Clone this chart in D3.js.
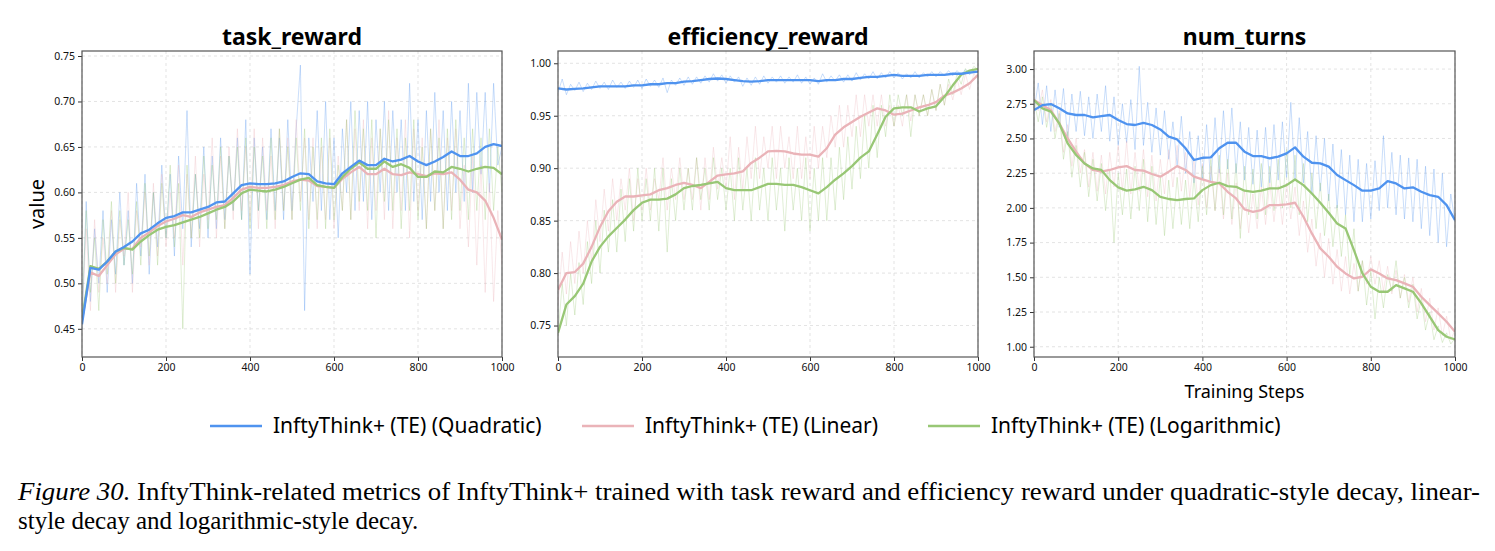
<!DOCTYPE html>
<html>
<head>
<meta charset="utf-8">
<script src="https://cdn.jsdelivr.net/npm/d3@7"></script>
<style>
  body { margin: 0; background: #fff; }
  svg { display: block; }
</style>
</head>
<body>
<svg id="chart" width="1495" height="551"></svg>
<script>
// ---- data ----
var seriesNames = ["InftyThink+ (TE) (Quadratic)", "InftyThink+ (TE) (Linear)", "InftyThink+ (TE) (Logarithmic)"];
var panelTitles = ["task_reward", "efficiency_reward", "num_turns"];
var xTicks = [0, 200, 400, 600, 800, 1000];
var yTicksTask = [0.45, 0.50, 0.55, 0.60, 0.65, 0.70, 0.75];
var yTicksEff = [0.75, 0.80, 0.85, 0.90, 0.95, 1.00];
var yTicksTurns = [1.00, 1.25, 1.50, 1.75, 2.00, 2.25, 2.50, 2.75, 3.00];

// smoothed curves, one value every 20 steps (0..1000)
var taskQuad = [0.455,0.517,0.515,0.524,0.535,0.540,0.546,0.555,0.559,0.566,0.572,0.574,0.578,0.578,0.581,0.584,0.589,0.590,0.599,0.608,0.610,0.609,0.609,0.610,0.612,0.617,0.621,0.620,0.612,0.610,0.609,0.621,0.628,0.635,0.630,0.630,0.637,0.634,0.636,0.640,0.634,0.630,0.634,0.639,0.645,0.640,0.640,0.643,0.650,0.653,0.651];
var taskLin = [0.460,0.512,0.508,0.520,0.532,0.538,0.538,0.550,0.556,0.563,0.568,0.571,0.575,0.573,0.578,0.581,0.584,0.586,0.594,0.603,0.606,0.605,0.605,0.606,0.608,0.612,0.614,0.613,0.607,0.606,0.605,0.615,0.622,0.628,0.620,0.620,0.626,0.620,0.619,0.622,0.620,0.618,0.621,0.620,0.622,0.614,0.603,0.600,0.591,0.572,0.548];
var taskLog = [0.460,0.519,0.516,0.524,0.535,0.539,0.537,0.546,0.553,0.559,0.562,0.564,0.567,0.570,0.573,0.577,0.581,0.584,0.590,0.599,0.603,0.602,0.601,0.603,0.606,0.610,0.614,0.616,0.608,0.606,0.605,0.617,0.626,0.633,0.626,0.626,0.634,0.628,0.631,0.627,0.617,0.617,0.623,0.622,0.628,0.626,0.623,0.626,0.628,0.627,0.620];

var effQuad = [0.976,0.975,0.9755,0.976,0.977,0.978,0.978,0.978,0.978,0.979,0.979,0.980,0.980,0.981,0.981,0.9825,0.983,0.984,0.985,0.9855,0.985,0.984,0.983,0.9825,0.983,0.984,0.984,0.984,0.984,0.984,0.984,0.983,0.984,0.984,0.985,0.985,0.986,0.987,0.987,0.988,0.989,0.988,0.988,0.988,0.989,0.989,0.989,0.990,0.990,0.991,0.992];
var effLin = [0.784,0.800,0.801,0.809,0.825,0.844,0.859,0.868,0.873,0.873,0.874,0.875,0.879,0.881,0.884,0.886,0.884,0.881,0.887,0.893,0.894,0.895,0.897,0.905,0.910,0.916,0.9165,0.916,0.914,0.913,0.913,0.911,0.919,0.932,0.939,0.944,0.949,0.953,0.957,0.955,0.951,0.952,0.955,0.958,0.960,0.963,0.969,0.972,0.976,0.981,0.989];
var effLog = [0.743,0.770,0.778,0.790,0.811,0.825,0.835,0.843,0.851,0.860,0.867,0.870,0.870,0.871,0.875,0.881,0.883,0.884,0.8855,0.887,0.881,0.879,0.879,0.879,0.882,0.885,0.885,0.884,0.884,0.882,0.879,0.876,0.882,0.889,0.895,0.902,0.910,0.916,0.932,0.949,0.957,0.958,0.958,0.954,0.957,0.959,0.968,0.979,0.989,0.993,0.9946];

var turnsQuad = [2.705,2.740,2.748,2.717,2.680,2.669,2.669,2.652,2.661,2.669,2.633,2.604,2.597,2.613,2.597,2.565,2.513,2.493,2.429,2.345,2.361,2.364,2.429,2.469,2.469,2.405,2.373,2.373,2.357,2.369,2.393,2.436,2.369,2.325,2.321,2.297,2.237,2.200,2.164,2.124,2.124,2.140,2.193,2.176,2.140,2.148,2.116,2.092,2.080,2.020,1.912];
var turnsLin = [2.777,2.740,2.705,2.609,2.500,2.405,2.320,2.273,2.261,2.273,2.292,2.301,2.273,2.268,2.244,2.225,2.261,2.301,2.273,2.225,2.205,2.188,2.176,2.116,2.068,1.989,1.972,1.984,2.020,2.020,2.025,2.037,1.936,1.816,1.708,1.648,1.576,1.528,1.492,1.504,1.557,1.528,1.492,1.480,1.456,1.432,1.360,1.300,1.240,1.180,1.108];
var turnsLog = [2.777,2.717,2.693,2.609,2.465,2.381,2.320,2.284,2.273,2.200,2.148,2.124,2.133,2.152,2.128,2.080,2.064,2.056,2.064,2.068,2.128,2.164,2.181,2.157,2.152,2.124,2.116,2.124,2.140,2.140,2.164,2.205,2.164,2.104,2.037,1.965,1.888,1.852,1.696,1.528,1.432,1.396,1.396,1.444,1.420,1.396,1.312,1.216,1.120,1.072,1.053];

// raw (unsmoothed) logs, one value every 10 steps (0..1000)
var taskQuadRaw = [0.45,0.59,0.48,0.56,0.50,0.58,0.49,0.57,0.51,0.60,0.52,0.58,0.50,0.61,0.53,0.62,0.51,0.60,0.54,0.63,0.55,0.62,0.53,0.64,0.56,0.69,0.54,0.62,0.56,0.65,0.55,0.64,0.56,0.66,0.57,0.64,0.58,0.66,0.57,0.68,0.51,0.66,0.58,0.65,0.57,0.67,0.58,0.66,0.57,0.68,0.58,0.67,0.74,0.47,0.66,0.59,0.69,0.58,0.70,0.57,0.66,0.55,0.67,0.60,0.70,0.58,0.69,0.59,0.70,0.57,0.68,0.60,0.70,0.58,0.69,0.60,0.68,0.58,0.72,0.59,0.68,0.57,0.69,0.59,0.71,0.60,0.69,0.58,0.70,0.60,0.69,0.59,0.72,0.60,0.71,0.62,0.71,0.60,0.72,0.63,0.65];
var taskLinRaw = [0.46,0.56,0.47,0.57,0.49,0.55,0.50,0.58,0.49,0.57,0.53,0.60,0.49,0.58,0.54,0.60,0.52,0.61,0.53,0.62,0.54,0.60,0.55,0.63,0.52,0.62,0.55,0.64,0.54,0.62,0.57,0.66,0.55,0.64,0.56,0.65,0.57,0.67,0.58,0.65,0.57,0.67,0.56,0.66,0.58,0.64,0.56,0.67,0.58,0.66,0.57,0.68,0.59,0.66,0.57,0.66,0.56,0.65,0.57,0.66,0.56,0.64,0.58,0.68,0.57,0.67,0.58,0.68,0.56,0.66,0.58,0.67,0.57,0.69,0.56,0.66,0.58,0.68,0.55,0.67,0.58,0.66,0.56,0.67,0.58,0.68,0.56,0.66,0.58,0.67,0.56,0.63,0.54,0.64,0.52,0.63,0.49,0.61,0.48,0.58,0.52];
var taskLogRaw = [0.47,0.58,0.49,0.55,0.47,0.57,0.51,0.59,0.50,0.58,0.52,0.57,0.51,0.59,0.52,0.61,0.53,0.60,0.52,0.61,0.55,0.63,0.54,0.61,0.45,0.63,0.55,0.62,0.55,0.64,0.56,0.63,0.57,0.65,0.56,0.64,0.58,0.65,0.57,0.66,0.56,0.65,0.58,0.64,0.56,0.66,0.57,0.67,0.58,0.65,0.57,0.66,0.58,0.67,0.56,0.65,0.57,0.66,0.56,0.67,0.57,0.63,0.58,0.68,0.57,0.69,0.59,0.67,0.58,0.68,0.55,0.67,0.59,0.68,0.58,0.67,0.56,0.66,0.58,0.68,0.57,0.65,0.56,0.67,0.58,0.66,0.56,0.67,0.57,0.68,0.58,0.66,0.57,0.67,0.58,0.66,0.57,0.67,0.58,0.65,0.60];

var effQuadRaw = [0.972,0.985,0.970,0.980,0.974,0.982,0.973,0.981,0.975,0.983,0.976,0.982,0.975,0.984,0.977,0.982,0.976,0.983,0.977,0.984,0.976,0.985,0.978,0.984,0.977,0.986,0.972,0.984,0.979,0.986,0.979,0.987,0.980,0.987,0.981,0.988,0.982,0.990,0.983,0.989,0.981,0.988,0.982,0.987,0.978,0.986,0.979,0.987,0.980,0.988,0.981,0.987,0.982,0.988,0.981,0.987,0.982,0.989,0.981,0.987,0.980,0.986,0.980,0.990,0.982,0.988,0.983,0.989,0.982,0.989,0.983,0.991,0.984,0.990,0.985,0.992,0.985,0.991,0.986,0.992,0.986,0.991,0.985,0.990,0.986,0.992,0.986,0.991,0.987,0.992,0.987,0.992,0.988,0.993,0.988,0.993,0.989,0.994,0.989,0.994,0.991];
var effLinRaw = [0.77,0.82,0.78,0.83,0.79,0.84,0.80,0.85,0.81,0.87,0.83,0.88,0.84,0.89,0.85,0.89,0.86,0.90,0.85,0.89,0.86,0.90,0.86,0.89,0.87,0.91,0.86,0.90,0.87,0.91,0.87,0.90,0.87,0.91,0.86,0.91,0.87,0.92,0.88,0.91,0.88,0.93,0.87,0.92,0.88,0.93,0.89,0.94,0.89,0.93,0.90,0.94,0.89,0.94,0.90,0.93,0.89,0.94,0.89,0.93,0.89,0.94,0.90,0.94,0.91,0.95,0.92,0.96,0.92,0.96,0.93,0.97,0.93,0.97,0.94,0.97,0.94,0.97,0.94,0.96,0.94,0.96,0.94,0.97,0.945,0.97,0.95,0.97,0.95,0.975,0.955,0.98,0.96,0.98,0.965,0.985,0.97,0.99,0.975,0.99,0.985];
var effLogRaw = [0.74,0.79,0.75,0.80,0.76,0.81,0.77,0.83,0.79,0.85,0.80,0.86,0.82,0.87,0.82,0.88,0.83,0.89,0.84,0.90,0.85,0.89,0.85,0.90,0.84,0.90,0.82,0.89,0.85,0.90,0.86,0.90,0.86,0.91,0.87,0.90,0.86,0.91,0.87,0.90,0.86,0.90,0.85,0.91,0.86,0.90,0.85,0.91,0.86,0.90,0.85,0.91,0.86,0.90,0.84,0.91,0.86,0.90,0.85,0.91,0.84,0.90,0.85,0.91,0.85,0.91,0.86,0.92,0.87,0.93,0.88,0.94,0.89,0.95,0.90,0.96,0.91,0.96,0.93,0.97,0.94,0.97,0.95,0.97,0.93,0.97,0.95,0.97,0.95,0.975,0.955,0.98,0.96,0.985,0.97,0.99,0.98,0.995,0.99,0.997,0.994];

var turnsQuadRaw = [2.70,2.90,2.60,2.88,2.55,2.85,2.58,2.86,2.50,2.82,2.55,2.84,2.52,2.80,2.50,2.82,2.55,2.88,2.48,2.80,2.45,2.75,2.47,2.78,2.42,3.02,2.45,2.76,2.40,2.72,2.38,2.70,2.35,2.62,2.30,2.66,2.25,2.55,2.18,2.52,2.20,2.60,2.18,2.65,2.25,2.70,2.28,2.72,2.25,2.62,2.20,2.58,2.17,2.56,2.15,2.58,2.18,2.60,2.20,2.62,2.22,2.76,2.20,2.65,2.18,2.55,2.10,2.52,2.12,2.50,2.05,2.46,2.00,2.42,1.95,2.38,1.90,2.35,1.90,2.32,1.92,2.34,1.98,2.52,2.00,2.40,1.95,2.38,1.92,2.36,1.90,2.35,1.85,2.30,1.80,2.28,1.75,2.25,1.72,2.10,1.90];
var turnsLinRaw = [2.80,2.70,2.85,2.62,2.78,2.55,2.70,2.40,2.60,2.30,2.50,2.25,2.42,2.15,2.40,2.12,2.38,2.10,2.40,2.15,2.45,2.12,2.48,2.10,2.40,2.12,2.42,2.08,2.38,2.05,2.35,2.10,2.42,2.15,2.45,2.12,2.40,2.08,2.35,2.02,2.32,2.00,2.30,1.98,2.28,1.92,2.25,1.88,2.18,1.85,2.12,1.82,2.10,1.85,2.15,1.88,2.18,1.90,2.16,1.88,2.18,1.92,2.15,1.80,2.05,1.68,1.92,1.58,1.82,1.50,1.78,1.45,1.70,1.40,1.65,1.38,1.60,1.40,1.62,1.45,1.65,1.45,1.62,1.40,1.58,1.38,1.55,1.35,1.52,1.32,1.50,1.25,1.42,1.18,1.35,1.12,1.28,1.08,1.22,1.05,1.12];
var turnsLogRaw = [2.78,2.62,2.80,2.58,2.75,2.50,2.68,2.35,2.55,2.22,2.45,2.15,2.40,2.08,2.35,2.05,2.32,1.98,2.28,1.75,2.25,1.95,2.28,1.92,2.30,1.98,2.35,1.90,2.30,1.88,2.22,1.80,2.20,1.85,2.22,1.88,2.20,1.85,2.22,1.90,2.30,1.95,2.35,1.98,2.38,1.95,2.35,1.92,2.32,1.78,2.30,1.95,2.28,1.92,2.32,1.95,2.30,1.98,2.35,2.00,2.42,2.00,2.38,1.95,2.32,1.90,2.25,1.85,2.18,1.80,2.10,1.72,2.02,1.65,1.95,1.52,1.85,1.40,1.62,1.30,1.55,1.20,1.50,1.28,1.52,1.40,1.62,1.35,1.50,1.28,1.45,1.20,1.35,1.12,1.25,1.05,1.15,1.03,1.10,1.02,1.06];

var colors = ["#4f93ef", "#eab3b8", "#98c775"];

// ---- layout ----
var svg = d3.select("#chart");
var plotTop = 51, plotBottom = 357;
var panels = [
  { title: panelTitles[0], left: 82, right: 502, domain: [0.419, 0.7555], ticks: yTicksTask,
    smooth: [taskQuad, taskLin, taskLog], raw: [taskQuadRaw, taskLinRaw, taskLogRaw] },
  { title: panelTitles[1], left: 558, right: 978, domain: [0.720, 1.0117], ticks: yTicksEff,
    smooth: [effQuad, effLin, effLog], raw: [effQuadRaw, effLinRaw, effLogRaw] },
  { title: panelTitles[2], left: 1034, right: 1455, domain: [0.926, 3.13], ticks: yTicksTurns,
    smooth: [turnsQuad, turnsLin, turnsLog], raw: [turnsQuadRaw, turnsLinRaw, turnsLogRaw] }
];

var tickFont = "'Noto Sans', sans-serif";

panels.forEach(function (p, pi) {
  var x = d3.scaleLinear().domain([0, 1000]).range([p.left, p.right]);
  var y = d3.scaleLinear().domain(p.domain).range([plotBottom, plotTop]);
  var g = svg.append("g");

  // grid
  g.append("g").selectAll("line").data(xTicks).enter().append("line")
    .attr("x1", function (d) { return x(d); }).attr("x2", function (d) { return x(d); })
    .attr("y1", plotTop).attr("y2", plotBottom)
    .attr("stroke", "#dcdcdc").attr("stroke-width", 0.8).attr("stroke-dasharray", "3,3");
  g.append("g").selectAll("line").data(p.ticks).enter().append("line")
    .attr("x1", p.left).attr("x2", p.right)
    .attr("y1", function (d) { return y(d); }).attr("y2", function (d) { return y(d); })
    .attr("stroke", "#dcdcdc").attr("stroke-width", 0.8).attr("stroke-dasharray", "3,3");

  var clipId = "clip" + pi;
  svg.append("clipPath").attr("id", clipId).append("rect")
    .attr("x", p.left).attr("y", plotTop).attr("width", p.right - p.left).attr("height", plotBottom - plotTop);

  var plot = g.append("g").attr("clip-path", "url(#" + clipId + ")");

  var rawLine = d3.line().x(function (d, i) { return x(i * 10); }).y(function (d) { return y(d); });
  var smoothLine = d3.line().x(function (d, i) { return x(i * 20); }).y(function (d) { return y(d); });

  p.raw.forEach(function (r, si) {
    plot.append("path").attr("d", rawLine(r))
      .attr("fill", "none").attr("stroke", colors[si])
      .attr("stroke-width", 1).attr("stroke-opacity", 0.3);
  });
  // pink first, then green, blue on top
  [1, 2, 0].forEach(function (si) {
    plot.append("path").attr("d", smoothLine(p.smooth[si]))
      .attr("fill", "none").attr("stroke", colors[si])
      .attr("stroke-width", 2.3).attr("stroke-linejoin", "round");
  });

  // axes
  var xa = g.append("g").attr("transform", "translate(0," + plotBottom + ")")
    .call(d3.axisBottom(x).tickValues(xTicks).tickFormat(d3.format("d")).tickSize(4).tickPadding(3));
  var ya = g.append("g").attr("transform", "translate(" + p.left + ",0)")
    .call(d3.axisLeft(y).tickValues(p.ticks).tickFormat(d3.format(".2f")).tickSize(4).tickPadding(3));
  [xa, ya].forEach(function (a) {
    a.select(".domain").remove();
    a.selectAll("line").attr("stroke", "#333");
    a.selectAll("text").attr("font-family", tickFont).attr("font-size", 10.5).attr("fill", "#111");
  });

  // frame
  g.append("rect").attr("x", p.left).attr("y", plotTop)
    .attr("width", p.right - p.left).attr("height", plotBottom - plotTop)
    .attr("fill", "none").attr("stroke", "#555").attr("stroke-width", 1.2);

  g.append("text").attr("x", (p.left + p.right) / 2).attr("y", 45)
    .attr("text-anchor", "middle").attr("font-family", "'Noto Sans', sans-serif")
    .attr("font-weight", "bold").attr("font-size", 23).attr("fill", "#000")
    .text(p.title);
});

// axis labels
svg.append("text").attr("transform", "translate(44,204) rotate(-90)")
  .attr("text-anchor", "middle").attr("font-family", "'Noto Sans', sans-serif")
  .attr("font-size", 20).text("value");
svg.append("text").attr("x", (1034 + 1455) / 2).attr("y", 398)
  .attr("text-anchor", "middle").attr("font-family", "'Noto Sans', sans-serif")
  .attr("font-size", 18).text("Training Steps");

// legend
var legendX = [210, 582, 928];
var legend = svg.append("g").selectAll("g").data(seriesNames).enter().append("g")
  .attr("transform", function (d, i) { return "translate(" + legendX[i] + ",426)"; });
legend.append("line").attr("x1", 0).attr("x2", 52).attr("y1", 0).attr("y2", 0)
  .attr("stroke", function (d, i) { return colors[i]; }).attr("stroke-width", 2.5);
legend.append("text").attr("x", 63).attr("y", 7)
  .attr("font-family", "'Noto Sans', sans-serif").attr("font-size", 21)
  .text(function (d) { return d; });

// caption
var cap = svg.append("g").attr("font-family", "'Liberation Serif', serif").attr("font-size", 25).attr("fill", "#000");
var l1 = cap.append("text").attr("x", 18).attr("y", 500).attr("textLength", 1462).attr("lengthAdjust", "spacingAndGlyphs");
l1.append("tspan").attr("font-style", "italic").text("Figure 30.");
l1.append("tspan").text(" InftyThink-related metrics of InftyThink+ trained with task reward and efficiency reward under quadratic-style decay, linear-");
cap.append("text").attr("x", 18).attr("y", 529).text("style decay and logarithmic-style decay.");
</script>
</body>
</html>
